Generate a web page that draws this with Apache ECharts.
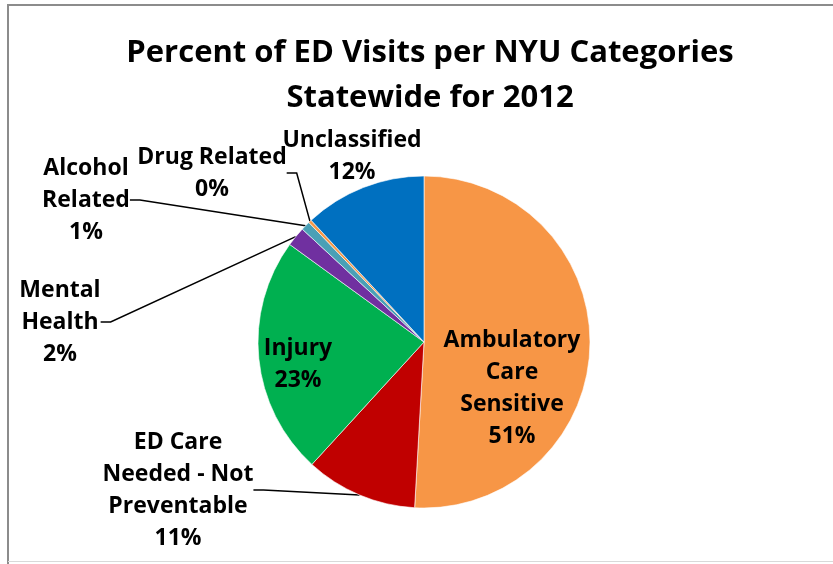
<!DOCTYPE html>
<html>
<head>
<meta charset="utf-8">
<script src="https://cdn.jsdelivr.net/npm/echarts@6/dist/echarts.min.js"></script>
<style>
html,body{margin:0;padding:0;background:#fff;}
#chart{width:833px;height:564px;}
</style>
</head>
<body>
<div id="chart"></div>
<script>
// ---- data ----
const categories = ['Ambulatory Care Sensitive', 'ED Care Needed - Not Preventable', 'Injury', 'Mental Health', 'Alcohol Related', 'Drug Related', 'Unclassified'];
const labelNames = ['Ambulatory\nCare\nSensitive', 'ED Care\nNeeded - Not\nPreventable', 'Injury', 'Mental\nHealth', 'Alcohol\nRelated', 'Drug Related', 'Unclassified'];
const values = [50.9, 10.9, 23.2, 1.9, 0.9, 0.3, 11.9];
const colors = ['#F79646', '#C00000', '#00B050', '#7030A0', '#4AA0B6', '#F79646', '#0070C0'];
const titleLines = ['Percent of ED Visits per NYU Categories', 'Statewide for 2012'];

// ---- layout (label anchor positions, px) ----
const labelPos = [[512, 388], [178, 490], [298, 364], [60, 322], [86, 200], [212, 173], [352, 156]];
const noLine = [true, false, true, false, false, false, true];

const FONT = '"Open Sans", Lato, sans-serif';
const chart = echarts.init(document.getElementById('chart'), null, {renderer: 'canvas'});

chart.setOption({
  backgroundColor: '#fff',
  animation: false,
  title: {
    text: titleLines.join('\n'),
    left: 425,
    top: 26,
    textAlign: 'center',
    textStyle: {fontFamily: FONT, fontWeight: 'bold', fontSize: 31, lineHeight: 45, color: '#000'}
  },
  graphic: [
    {type: 'polyline', shape: {points: [[8, 564], [8, 5], [840, 5]]}, style: {stroke: '#8c8c8c', lineWidth: 2, fill: null}, silent: true},
    {type: 'line', shape: {x1: 8, y1: 561.5, x2: 840, y2: 561.5}, style: {stroke: '#d9d9d9', lineWidth: 1}, silent: true}
  ],
  series: [{
    type: 'pie',
    center: [424, 342],
    radius: [0, 166],
    startAngle: 90,
    clockwise: true,
    avoidLabelOverlap: false,
    itemStyle: {borderColor: '#fff', borderWidth: 0.6},
    label: {
      show: true,
      fontFamily: FONT, fontWeight: 'bold', fontSize: 23, lineHeight: 32, color: '#000',
      align: 'center',
      formatter: p => labelNames[p.dataIndex] + '\n' + Math.round(p.percent) + '%'
    },
    labelLine: {show: true, length: 10, length2: 10, smooth: false, lineStyle: {color: '#000', width: 1.5}},
    labelLayout: p => ({x: labelPos[p.dataIndex][0], y: labelPos[p.dataIndex][1], align: 'center', verticalAlign: 'middle'}),
    data: categories.map((c, i) => ({
      name: c,
      value: values[i],
      itemStyle: {color: colors[i]},
      label: noLine[i] && i !== 6 ? {position: 'inside'} : {},
      labelLine: {show: !noLine[i]}
    }))
  }]
});
</script>
</body>
</html>
